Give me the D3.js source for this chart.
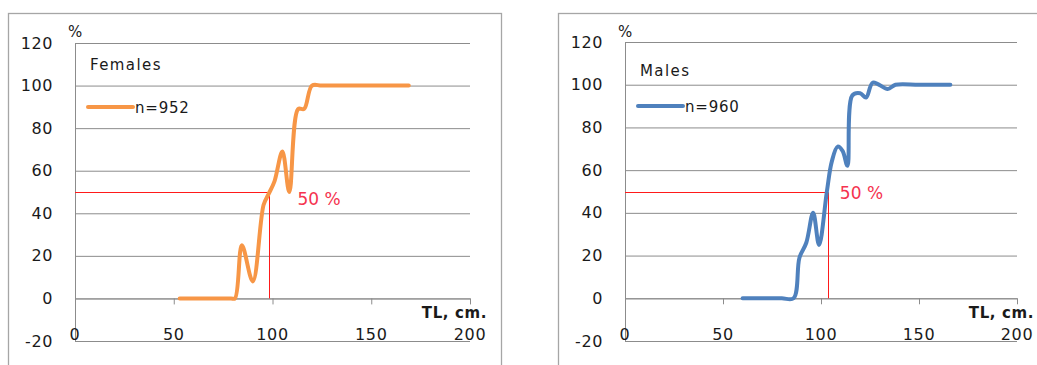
<html>
<head>
    <meta charset="utf-8">
    <script src="https://d3js.org/d3.v7.min.js"></script>
    <style>
        body { margin: 0; background: #fff; }
        text { font-family: "DejaVu Sans", sans-serif; }
    </style>
</head>
<body>
    <svg id='s' width="1037" height="365"></svg>
    <script>
        // Females, TL (cm) vs maturity %
        const femaleTL = [53, 60, 70, 79, 81, 84.5, 90, 95.5, 98, 101, 105, 108.5, 113, 116, 120, 125, 140, 155, 169]
        const femaleP  = [0, 0, 0, 0, 0, 25, 8, 44, 49, 55, 69, 50, 89, 89, 100, 100, 100, 100, 100]
        // Males
        const maleTL = [60, 70, 80, 86, 89, 92.5, 96, 99, 103, 105.5, 108.5, 111, 113.5, 116, 120, 123, 126.5, 134, 138, 150, 166]
        const maleP  = [0, 0, 0, 0, 19, 26, 40, 25, 50, 64, 71, 69, 62, 95, 96, 94, 101, 98, 100, 100, 100]

        const xTicks = [0, 50, 100, 150, 200]
        const yTicks = [-20, 0, 20, 40, 60, 80, 100, 120]

        const panels = [
            { title: "Females", legend: "n=952", tl: femaleTL, p: femaleP, l50: 98, color: "#f79646",
              box: 8, left: 75, right: 470, top: 43, bottom: 341, titleY: 70, legY: 107, lblDx: 29, lblDy: 13 },
            { title: "Males", legend: "n=960", tl: maleTL, p: maleP, l50: 103.5, color: "#4f81bd",
              box: 558, left: 625, right: 1017, top: 42, bottom: 341, titleY: 76, legY: 106, lblDx: 12, lblDy: 7 }
        ]

        const svg = d3.select("svg")
        const GRID = "#8c8c8c"
        const INK = "#1a1a1a"
        const crisp = v => Math.round(v) + 0.5

        panels.forEach(pn => {
            // chart area border
            svg.append("rect")
                .attr("x", pn.box + 0.5).attr("y", 13.5)
                .attr("width", 493).attr("height", 400)
                .attr("fill", "none").attr("stroke", "#a6a6a6").attr("stroke-width", 1.3)

            const x = d3.scaleLinear().domain([0, 200]).range([pn.left, pn.right])
            const y = d3.scaleLinear().domain([-20, 120]).range([pn.bottom, pn.top])

            // y axis with gridlines
            const yAxis = d3.axisLeft(y)
                .tickValues(yTicks)
                .tickSizeInner(-(pn.right - pn.left))
                .tickSizeOuter(0)
                .tickPadding(22)
                .tickFormat(d => String(d))
            const ga = svg.append("g")
                .attr("transform", `translate(${pn.left},0)`)
                .call(yAxis)
            ga.select(".domain").attr("stroke", GRID)
            ga.selectAll(".tick line").attr("stroke", GRID)
            ga.selectAll(".tick text")
                .attr("font-family", "DejaVu Sans")
                .attr("font-size", "16px")
                .attr("fill", INK)
                .attr("letter-spacing", "0.6px")

            // x axis at 0 with small ticks
            const xAxis = d3.axisBottom(x)
                .tickValues(xTicks)
                .tickSizeInner(6)
                .tickSizeOuter(0)
                .tickFormat("")
            const gx = svg.append("g")
                .attr("transform", `translate(0,${y(0)})`)
                .call(xAxis)
            gx.select(".domain").attr("stroke", GRID)
            gx.selectAll(".tick line").attr("stroke", GRID)

            // x tick labels sit on the bottom line
            svg.append("g").selectAll("text")
                .data(xTicks)
                .enter().append("text")
                .attr("x", d => x(d))
                .attr("y", pn.bottom - 1)
                .attr("text-anchor", "middle")
                .attr("font-size", "16px")
                .attr("letter-spacing", "0.6px")
                .attr("fill", INK)
                .text(d => d)

            // axis titles
            svg.append("text")
                .attr("x", pn.left - 7).attr("y", 37)
                .attr("font-size", "15px").attr("fill", INK)
                .text("%")
            svg.append("text")
                .attr("x", pn.right + 17).attr("y", 318)
                .attr("text-anchor", "end")
                .attr("font-size", "15px").attr("font-weight", "bold")
                .attr("letter-spacing", "0.6px")
                .attr("fill", INK)
                .text("TL,  cm.")

            // 50% guide lines
            svg.append("path")
                .attr("d", `M${x(0)},${crisp(y(50))}H${crisp(x(pn.l50))}V${y(0)}`)
                .attr("fill", "none")
                .attr("stroke", "#ff1a1a")
                .attr("stroke-width", 1)

            // curve
            const pts = pn.tl.map((t, i) => [t, pn.p[i]])
            svg.append("path")
                .datum(pts)
                .attr("fill", "none")
                .attr("stroke", pn.color)
                .attr("stroke-width", 4)
                .attr("stroke-linejoin", "round")
                .attr("stroke-linecap", "round")
                .attr("d", d3.line()
                    .x(d => x(d[0]))
                    .y(d => y(d[1]))
                    .curve(d3.curveCatmullRom.alpha(0.5)))

            svg.append("text")
                .attr("x", x(pn.l50) + pn.lblDx).attr("y", y(50) + pn.lblDy)
                .attr("font-size", "17px")
                .attr("fill", "#f5334f")
                .text("50 %")

            // title + legend
            svg.append("text")
                .attr("x", pn.left + 15).attr("y", pn.titleY)
                .attr("font-size", "15px").attr("fill", INK)
                .attr("letter-spacing", "1.4px")
                .text(pn.title)
            svg.append("line")
                .attr("x1", pn.left + 13).attr("x2", pn.left + 58)
                .attr("y1", pn.legY).attr("y2", pn.legY)
                .attr("stroke", pn.color).attr("stroke-width", 4)
                .attr("stroke-linecap", "round")
            svg.append("text")
                .attr("x", pn.left + 60).attr("y", pn.legY + 6)
                .attr("font-size", "15px").attr("fill", INK)
                .attr("letter-spacing", "0.8px")
                .text(pn.legend)
        })
    </script>
</body>
</html>
